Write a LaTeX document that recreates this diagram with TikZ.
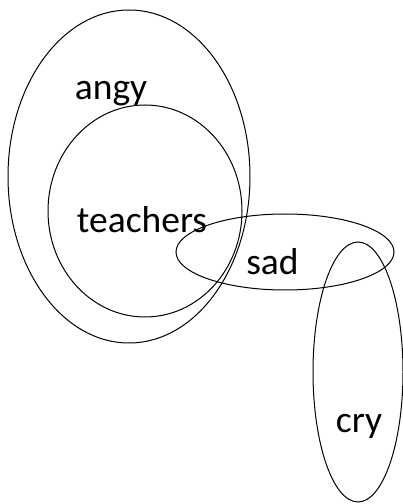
\documentclass[tikz,border=0pt]{standalone}
\usepackage{fontspec}
\setmainfont{Carlito}
\usetikzlibrary{shapes.geometric}
\begin{document}
\begin{tikzpicture}[x=1pt,y=1pt,
  set/.style={draw=black, line width=1pt, ellipse, inner sep=0pt, fill=none},
  lbl/.style={anchor=base, inner sep=0pt, font=\fontsize{37.5}{42}\selectfont, text=black}]
\useasboundingbox (0,0) rectangle (403,504);
\node[set, minimum width=242pt, minimum height=333pt] (angyset) at (129,327.5) {};
\node[set, minimum width=194pt, minimum height=212pt] (teachset) at (145,293) {};
\node[set, minimum width=218pt, minimum height=76pt] (sadset) at (285,252) {};
\node[set, minimum width=90pt, minimum height=260pt] (cryset) at (358,132) {};
\node[lbl] (angy) at (111,404) {angy};
\node[lbl] (teachers) at (142,271) {teachers};
\node[lbl] (sad) at (272.5,229) {sad};
\node[lbl] (cry) at (359,71) {cry};
\end{tikzpicture}
\end{document}
